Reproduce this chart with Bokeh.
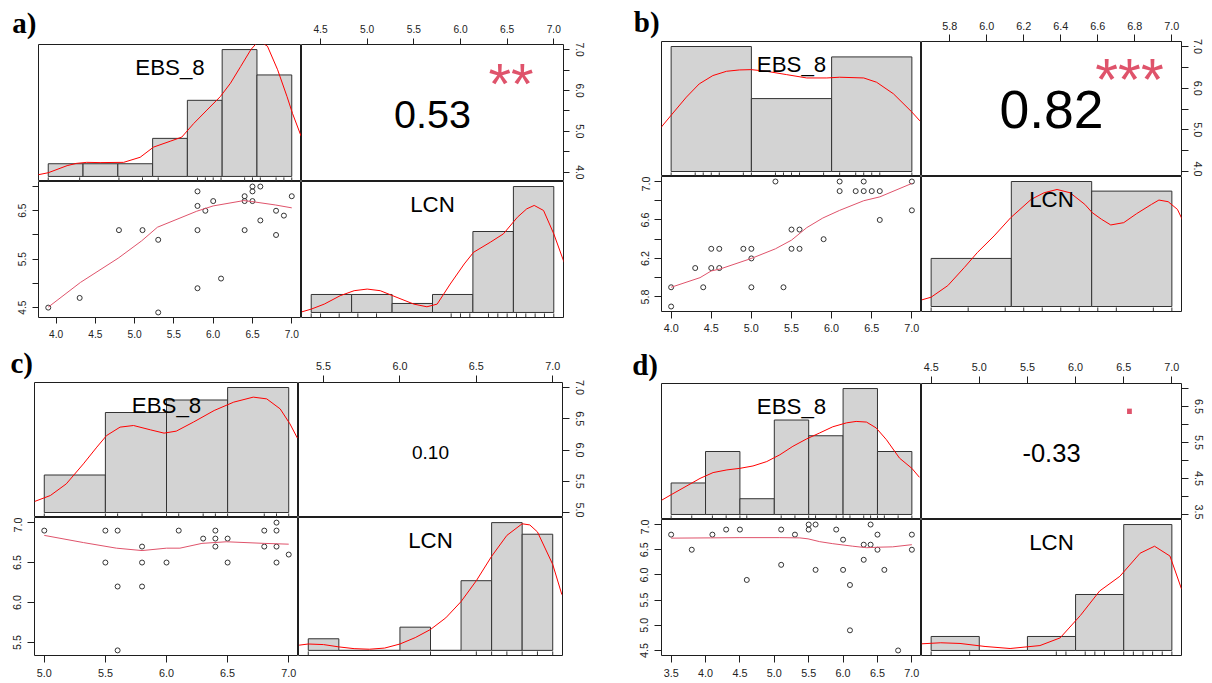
from bokeh.plotting import figure
from bokeh.models import Range1d, LinearAxis, FixedTicker, CustomJSTickFormatter
from bokeh.layouts import row, column
from bokeh.core.properties import value
from bokeh.embed import file_html
from bokeh.resources import INLINE

VAR_NAMES = ["EBS_8", "LCN"]

# ------------------------------------------------------------------ a)
A_EBS = [3.9, 4.3, 4.8, 5.1, 5.3, 5.3, 5.8, 5.8, 5.8, 5.8, 5.9, 6.0, 6.1, 6.4, 6.4, 6.4, 6.5, 6.5, 6.5, 6.6, 6.6, 6.8, 6.8, 6.9, 7.0]
A_LCN = [4.5, 4.7, 6.1, 6.1, 5.9, 4.4, 6.9, 6.6, 6.1, 4.9, 6.5, 6.7, 5.1, 6.8, 6.7, 6.1, 7.0, 6.9, 6.7, 7.0, 6.3, 6.5, 6.0, 6.4, 6.8]
A_LOESS_X = [3.9, 4.31, 4.79, 5.09, 5.29, 5.79, 6.0, 6.39, 6.49, 6.79, 7.0]
A_LOESS_Y = [4.51, 5.02, 5.52, 5.88, 6.16, 6.49, 6.60, 6.71, 6.69, 6.62, 6.56]
A_HIST_EBS_EDGES = [3.9, 4.343, 4.786, 5.229, 5.671, 6.114, 6.557, 7.0]
A_HIST_EBS_COUNTS = [1, 1, 1, 3, 6, 10, 8]
A_HIST_LCN_EDGES = [4.4, 4.833, 5.267, 5.7, 6.133, 6.567, 7.0]
A_HIST_LCN_COUNTS = [2, 2, 1, 2, 9, 14]
A_DENS_EBS_X = [3.77, 3.90, 4.14, 4.26, 4.39, 4.56, 4.86, 5.07, 5.24, 5.46, 5.60, 5.75, 5.92, 6.09, 6.22, 6.35, 6.48, 6.58, 6.69, 6.82, 6.94, 7.01, 7.12]
A_DENS_EBS_Y = [0.13, 0.29, 0.85, 1.03, 1.11, 1.09, 1.11, 1.51, 2.31, 2.79, 3.10, 4.16, 5.23, 6.29, 7.35, 8.67, 10.0, 10.7, 10.27, 8.41, 6.29, 4.96, 3.16]
A_DENS_LCN_X = [4.30, 4.40, 4.54, 4.71, 4.86, 5.00, 5.14, 5.32, 5.50, 5.64, 5.75, 5.89, 6.04, 6.14, 6.32, 6.46, 6.61, 6.71, 6.79, 6.89, 7.00, 7.11]
A_DENS_LCN_Y = [0.07, 0.37, 0.93, 1.86, 2.42, 2.60, 2.42, 1.67, 0.93, 0.63, 0.93, 3.16, 5.39, 6.69, 7.81, 8.74, 10.59, 11.52, 11.90, 11.34, 8.74, 5.58]
A_R_TEXT = "0.53"
A_STARS = "**"
A_TICKS_EBS = [4.0, 4.5, 5.0, 5.5, 6.0, 6.5, 7.0]
A_TICKS_LCN = [4.5, 5.0, 5.5, 6.0, 6.5, 7.0]
A_SHOWN_LEFT = [4.5, 5.5, 6.5]
A_SHOWN_RIGHT = [4.0, 5.0, 6.0, 7.0]

# ------------------------------------------------------------------ b)
B_EBS = [4.0, 4.0, 4.3, 4.4, 4.5, 4.5, 4.6, 4.6, 4.9, 5.0, 5.0, 5.0, 5.3, 5.4, 5.5, 5.5, 5.6, 5.6, 5.9, 6.1, 6.1, 6.3, 6.4, 6.4, 6.5, 6.6, 6.6, 7.0, 7.0]
B_LCN = [5.9, 5.7, 6.1, 5.9, 6.3, 6.1, 6.3, 6.1, 6.3, 6.3, 6.2, 5.9, 7.0, 5.9, 6.5, 6.3, 6.5, 6.3, 6.4, 7.0, 6.9, 6.9, 7.0, 6.9, 6.9, 6.9, 6.6, 7.0, 6.7]
B_LOESS_X = [4.0, 4.36, 4.5, 4.61, 5.0, 5.3, 5.5, 5.69, 5.89, 6.1, 6.4, 6.6, 7.0]
B_LOESS_Y = [5.90, 6.0, 6.07, 6.09, 6.20, 6.30, 6.39, 6.52, 6.62, 6.70, 6.80, 6.84, 6.98]
B_HIST_EBS_EDGES = [4.0, 5.0, 6.0, 7.0]
B_HIST_EBS_COUNTS = [12, 7, 11]
B_HIST_LCN_EDGES = [5.7, 6.133, 6.567, 7.0]
B_HIST_LCN_COUNTS = [5, 13, 12]
B_DENS_EBS_X = [3.87, 4.00, 4.19, 4.35, 4.52, 4.69, 4.85, 5.00, 5.19, 5.44, 5.69, 5.94, 6.10, 6.40, 6.56, 6.77, 7.00, 7.10]
B_DENS_EBS_Y = [4.19, 5.40, 7.14, 8.41, 9.21, 9.62, 9.75, 9.78, 9.62, 9.30, 8.98, 8.98, 9.05, 8.98, 8.57, 7.46, 5.71, 4.86]
B_DENS_LCN_X = [5.65, 5.70, 5.79, 5.88, 5.95, 6.04, 6.13, 6.24, 6.31, 6.38, 6.45, 6.53, 6.57, 6.62, 6.67, 6.74, 6.81, 6.89, 6.93, 6.98, 7.03, 7.06]
B_DENS_LCN_Y = [0.69, 0.97, 2.17, 4.07, 5.62, 7.34, 9.24, 11.14, 11.83, 12.17, 11.83, 10.62, 9.76, 9.07, 8.48, 8.72, 9.66, 10.62, 11.07, 10.90, 10.10, 8.90]
B_R_TEXT = "0.82"
B_STARS = "***"
B_TICKS_EBS = [4.0, 4.5, 5.0, 5.5, 6.0, 6.5, 7.0]
B_TICKS_LCN = [5.8, 6.0, 6.2, 6.4, 6.6, 6.8, 7.0]
B_SHOWN_LEFT = [5.8, 6.2, 6.6, 7.0]
B_SHOWN_RIGHT = [4.0, 5.0, 6.0, 7.0]

# ------------------------------------------------------------------ c)
C_EBS = [5.0, 5.5, 5.5, 5.6, 5.6, 5.6, 5.8, 5.8, 5.8, 6.0, 6.1, 6.3, 6.4, 6.4, 6.4, 6.5, 6.5, 6.8, 6.8, 6.9, 6.9, 6.9, 6.9, 7.0]
C_LCN = [6.9, 6.9, 6.5, 6.9, 6.2, 5.4, 6.7, 6.5, 6.2, 6.5, 6.9, 6.8, 6.9, 6.8, 6.7, 6.8, 6.5, 6.9, 6.7, 7.0, 6.9, 6.7, 6.5, 6.6]
C_LOESS_X = [5.0, 5.32, 5.59, 5.80, 6.0, 6.11, 6.29, 6.49, 6.80, 7.0]
C_LOESS_Y = [6.84, 6.75, 6.68, 6.65, 6.68, 6.68, 6.74, 6.76, 6.74, 6.73]
C_HIST_EBS_EDGES = [5.0, 5.5, 6.0, 6.5, 7.0]
C_HIST_EBS_COUNTS = [3, 8, 9, 10]
C_HIST_LCN_EDGES = [5.4, 5.6, 5.8, 6.0, 6.2, 6.4, 6.6, 6.8, 7.0]
C_HIST_LCN_COUNTS = [1, 0, 0, 2, 0, 6, 11, 10]
C_DENS_EBS_X = [4.92, 5.05, 5.18, 5.32, 5.43, 5.51, 5.62, 5.73, 5.87, 5.98, 6.08, 6.22, 6.39, 6.55, 6.71, 6.82, 6.93, 7.01, 7.07]
C_DENS_EBS_Y = [0.88, 1.36, 2.29, 3.89, 5.23, 6.16, 6.83, 6.96, 6.61, 6.35, 6.51, 7.23, 8.16, 8.83, 9.23, 9.09, 8.29, 7.09, 5.97]
C_DENS_LCN_X = [5.34, 5.40, 5.50, 5.60, 5.70, 5.80, 5.90, 6.00, 6.10, 6.20, 6.30, 6.40, 6.50, 6.60, 6.70, 6.80, 6.85, 6.90, 7.00, 7.06]
C_DENS_LCN_Y = [0.45, 0.55, 0.50, 0.30, 0.15, 0.10, 0.20, 0.55, 1.10, 1.80, 2.80, 4.20, 6.00, 8.10, 9.90, 10.9, 10.8, 10.2, 7.4, 4.8]
C_R_TEXT = "0.10"
C_STARS = ""
C_TICKS_EBS = [5.0, 5.5, 6.0, 6.5, 7.0]
C_TICKS_LCN = [5.5, 6.0, 6.5, 7.0]
C_SHOWN_LEFT = [5.5, 6.0, 6.5, 7.0]
C_SHOWN_RIGHT = [5.0, 5.5, 6.0, 6.5, 7.0]

# ------------------------------------------------------------------ d)
D_EBS = [3.5, 3.8, 4.1, 4.3, 4.5, 4.6, 5.1, 5.1, 5.3, 5.5, 5.5, 5.6, 5.6, 5.9, 6.0, 6.0, 6.1, 6.1, 6.3, 6.3, 6.4, 6.4, 6.5, 6.5, 6.6, 6.8, 7.0, 7.0]
D_LCN = [6.8, 6.5, 6.8, 6.9, 6.9, 5.9, 6.9, 6.2, 6.8, 7.0, 6.9, 7.0, 6.1, 6.9, 6.7, 6.1, 5.8, 4.9, 6.6, 6.3, 7.0, 6.6, 6.8, 6.5, 6.1, 4.5, 6.8, 6.5]
D_LOESS_X = [3.5, 4.07, 4.5, 5.08, 5.37, 5.49, 5.66, 5.85, 6.14, 6.34, 6.5, 6.72, 7.0]
D_LOESS_Y = [6.73, 6.735, 6.74, 6.74, 6.735, 6.716, 6.66, 6.62, 6.57, 6.54, 6.55, 6.557, 6.60]
D_HIST_EBS_EDGES = [3.5, 4.0, 4.5, 5.0, 5.5, 6.0, 6.5, 7.0]
D_HIST_EBS_COUNTS = [2, 4, 1, 6, 5, 8, 4]
D_HIST_LCN_EDGES = [4.5, 5.0, 5.5, 6.0, 6.5, 7.0]
D_HIST_LCN_COUNTS = [2, 0, 2, 8, 18]
D_DENS_EBS_X = [3.36, 3.51, 3.73, 3.92, 4.11, 4.31, 4.50, 4.69, 4.89, 5.08, 5.27, 5.47, 5.66, 5.85, 6.05, 6.19, 6.34, 6.48, 6.63, 6.82, 7.00, 7.11]
D_DENS_EBS_Y = [0.90, 1.28, 1.82, 2.29, 2.66, 2.83, 2.93, 3.08, 3.36, 3.79, 4.33, 4.80, 5.18, 5.57, 5.82, 5.91, 5.87, 5.50, 4.75, 3.58, 2.93, 2.36]
D_DENS_LCN_X = [4.40, 4.60, 4.80, 5.06, 5.32, 5.63, 5.84, 6.05, 6.25, 6.46, 6.67, 6.82, 6.98, 7.10]
D_DENS_LCN_Y = [0.95, 1.10, 1.00, 0.57, 0.28, 0.70, 1.80, 5.00, 8.50, 10.6, 13.9, 14.9, 13.5, 8.8]
D_R_TEXT = "-0.33"
D_STARS = "."
D_TICKS_EBS = [3.5, 4.0, 4.5, 5.0, 5.5, 6.0, 6.5, 7.0]
D_TICKS_LCN = [4.5, 5.0, 5.5, 6.0, 6.5, 7.0]
D_SHOWN_LEFT = [4.5, 5.0, 5.5, 6.0, 6.5, 7.0]
D_SHOWN_RIGHT = [3.5, 4.5, 5.5, 6.5]

# ------------------------------------------------------------------ layout / style (pixels)
STYLE = {
    "a": dict(tag="a)", cols=(38, 263, 262, 43), rows=(44, 137, 136, 28), origin=(0, 0), tag_xy=(11.7, 22.5),
              tick_font=10.2, tick_len=6, standoff=6, label_font=22.3, r_font=39.5, r_dy=1.5, star_font=58, star_dy=11.6),
    "b": dict(tag="b)", cols=(55, 260, 260, 31), rows=(41, 135, 135, 34), origin=(606, 0), tag_xy=(633.3, 21.5),
              tick_font=10.8, tick_len=7, standoff=5, label_font=22.3, r_font=53.5, r_dy=0.8, star_font=58.5, star_dy=10.6),
    "c": dict(tag="c)", cols=(34, 264, 264, 44), rows=(37, 135, 138, 28), origin=(0, 345), tag_xy=(10.0, 362.5),
              tick_font=10.8, tick_len=7, standoff=6, label_font=22.3, r_font=19, r_dy=2.5, star_font=58, star_dy=11.0),
    "d": dict(tag="d)", cols=(55, 260, 260, 31), rows=(38, 136, 136, 28), origin=(606, 345), tag_xy=(631.7, 364.0),
              tick_font=10.8, tick_len=7, standoff=6, label_font=22.3, r_font=25.5, r_dy=1.0, star_font=50, star_dy=-14.0),
}

DATA = {
    "a": dict(ebs=A_EBS, lcn=A_LCN, lx=A_LOESS_X, ly=A_LOESS_Y, he=A_HIST_EBS_EDGES, hc=A_HIST_EBS_COUNTS,
              le=A_HIST_LCN_EDGES, lc=A_HIST_LCN_COUNTS, dex=A_DENS_EBS_X, dey=A_DENS_EBS_Y, dlx=A_DENS_LCN_X,
              dly=A_DENS_LCN_Y, r=A_R_TEXT, stars=A_STARS, te=A_TICKS_EBS, tl=A_TICKS_LCN, sl=A_SHOWN_LEFT, sr=A_SHOWN_RIGHT),
    "b": dict(ebs=B_EBS, lcn=B_LCN, lx=B_LOESS_X, ly=B_LOESS_Y, he=B_HIST_EBS_EDGES, hc=B_HIST_EBS_COUNTS,
              le=B_HIST_LCN_EDGES, lc=B_HIST_LCN_COUNTS, dex=B_DENS_EBS_X, dey=B_DENS_EBS_Y, dlx=B_DENS_LCN_X,
              dly=B_DENS_LCN_Y, r=B_R_TEXT, stars=B_STARS, te=B_TICKS_EBS, tl=B_TICKS_LCN, sl=B_SHOWN_LEFT, sr=B_SHOWN_RIGHT),
    "c": dict(ebs=C_EBS, lcn=C_LCN, lx=C_LOESS_X, ly=C_LOESS_Y, he=C_HIST_EBS_EDGES, hc=C_HIST_EBS_COUNTS,
              le=C_HIST_LCN_EDGES, lc=C_HIST_LCN_COUNTS, dex=C_DENS_EBS_X, dey=C_DENS_EBS_Y, dlx=C_DENS_LCN_X,
              dly=C_DENS_LCN_Y, r=C_R_TEXT, stars=C_STARS, te=C_TICKS_EBS, tl=C_TICKS_LCN, sl=C_SHOWN_LEFT, sr=C_SHOWN_RIGHT),
    "d": dict(ebs=D_EBS, lcn=D_LCN, lx=D_LOESS_X, ly=D_LOESS_Y, he=D_HIST_EBS_EDGES, hc=D_HIST_EBS_COUNTS,
              le=D_HIST_LCN_EDGES, lc=D_HIST_LCN_COUNTS, dex=D_DENS_EBS_X, dey=D_DENS_EBS_Y, dlx=D_DENS_LCN_X,
              dly=D_DENS_LCN_Y, r=D_R_TEXT, stars=D_STARS, te=D_TICKS_EBS, tl=D_TICKS_LCN, sl=D_SHOWN_LEFT, sr=D_SHOWN_RIGHT),
}

FONT = "Liberation Sans"
INK = "#1e1e1e"
HIST_FILL = "#D3D3D3"
DENS_COLOR = "#FF0000"
SMOOTH_COLOR = "#DF536B"


def ext(vals):
    lo, hi = min(vals), max(vals)
    d = hi - lo
    return (lo - 0.04 * d, hi + 0.04 * d)


def frac(rng, f):
    return rng.start + f * (rng.end - rng.start)


def base_fig(w, h, xr, yr, ml, mr, mt, mb, outline=INK):
    p = figure(width=w, height=h, x_range=xr, y_range=yr, output_backend="svg", toolbar_location=None,
               x_axis_location=None, y_axis_location=None,
               min_border_left=ml, min_border_right=mr, min_border_top=mt, min_border_bottom=mb,
               background_fill_color="white", border_fill_color="white",
               outline_line_color=outline, outline_line_width=1)
    p.grid.visible = False
    return p


def add_axis(p, side, ticks, shown, st):
    fmt = CustomJSTickFormatter(
        args=dict(shown=[f"{v:.1f}" for v in shown]),
        code="const s = tick.toFixed(1); return shown.indexOf(s) >= 0 ? s : '';")
    ax = LinearAxis(ticker=FixedTicker(ticks=ticks), formatter=fmt,
                    axis_line_color=None, major_tick_line_color=INK, major_tick_line_width=1,
                    major_tick_out=st["tick_len"], major_tick_in=0, minor_tick_line_color=None,
                    major_label_text_font=FONT, major_label_text_font_size=f"{st['tick_font']}px",
                    major_label_text_color="#222222", major_label_standoff=st["standoff"])
    if side in ("left", "right"):
        ax.major_label_orientation = "vertical"
    p.add_layout(ax, side)


def hist_panel(w, h, borders, xvals, edges, counts, dx, dy, name, st):
    M = max(counts)
    xr = Range1d(*ext(xvals))
    yr = Range1d(-0.04 * M, 1.04 * M)
    p = base_fig(w, h, xr, yr, *borders)
    p.quad(left=edges[:-1], right=edges[1:], bottom=0, top=counts,
           fill_color=HIST_FILL, line_color="#333333", line_width=1)
    p.line(dx, dy, line_color=DENS_COLOR, line_width=1)
    ux = sorted(set(xvals))
    y0 = yr.start
    y1 = yr.start + 0.03 * (yr.end - yr.start)
    p.segment(x0=ux, y0=[y0] * len(ux), x1=ux, y1=[y1] * len(ux), line_color="#333333", line_width=1)
    fs = st["label_font"]
    p.text(x=[frac(xr, 0.5)], y=[frac(yr, 0.833)], text=[name], text_font=value(FONT),
           text_font_size=value(f"{fs}px"), text_align="center", text_baseline="alphabetic",
           y_offset=0, text_color="black")
    return p


def tag_fig(w, h, st):
    # strip above the top-left panel, 1 unit = 1 pixel, y measured from the top
    p = base_fig(w, h, Range1d(0, w), Range1d(h, 0), 0, 0, 0, 0, outline=None)
    p.frame_align = False
    ox, oy = st["origin"]
    tx, ty = st["tag_xy"]
    p.text(x=[tx - ox], y=[ty - oy], text=[st["tag"]], text_font=value("Liberation Serif"),
           text_font_style="bold", text_font_size=value("29px"), text_align="left",
           text_baseline="alphabetic", text_color="black")
    return p


def quadrant(key):
    st = STYLE[key]
    dt = DATA[key]
    L, W1, W2, R = st["cols"]
    T, H1, H2, B = st["rows"]
    ebs, lcn = dt["ebs"], dt["lcn"]

    tag = tag_fig(L + W1, T, st)
    # top-left: histogram of EBS_8
    tl = hist_panel(L + W1, H1, (L, 0, 0, 0), ebs, dt["he"], dt["hc"], dt["dex"], dt["dey"], VAR_NAMES[0], st)

    # top-right: correlation panel
    xr = Range1d(*ext(lcn))
    yr = Range1d(*ext(ebs))
    tr = base_fig(W2 + R, T + H1, xr, yr, 0, R, T, 0)
    add_axis(tr, "above", dt["tl"], dt["tl"], st)
    add_axis(tr, "right", dt["te"], dt["sr"], st)
    tr.text(x=[frac(xr, 0.5)], y=[frac(yr, 0.5)], text=[dt["r"]], text_font=value(FONT),
            text_font_size=value(f"{st['r_font']}px"), text_align="center", text_baseline="alphabetic",
            y_offset=st["r_dy"], text_color="black")
    if dt["stars"]:
        tr.text(x=[frac(xr, 0.8)], y=[frac(yr, 0.8)], text=[dt["stars"]], text_font=value(FONT),
                text_font_size=value(f"{st['star_font']}px"), text_align="center", text_baseline="alphabetic",
                y_offset=st["star_dy"], text_color=SMOOTH_COLOR)

    # bottom-left: scatter with smoother
    xr2 = Range1d(*ext(ebs))
    yr2 = Range1d(*ext(lcn))
    bl = base_fig(L + W1, H2 + B, xr2, yr2, L, 0, 0, B)
    add_axis(bl, "below", dt["te"], dt["te"], st)
    add_axis(bl, "left", dt["tl"], dt["sl"], st)
    bl.scatter(ebs, lcn, marker="circle", size=5, fill_color=None, line_color="#333333", line_width=1)
    bl.line(dt["lx"], dt["ly"], line_color=SMOOTH_COLOR, line_width=1)

    # bottom-right: histogram of LCN
    br = hist_panel(W2 + R, H2 + B, (0, R, 0, B), lcn, dt["le"], dt["lc"], dt["dlx"], dt["dly"], VAR_NAMES[1], st)

    return row(column(tag, tl, bl), column(tr, br))


page = column(row(quadrant("a"), quadrant("b")), row(quadrant("c"), quadrant("d")))

with open("out.html", "w") as f:
    f.write(file_html(page, INLINE))
